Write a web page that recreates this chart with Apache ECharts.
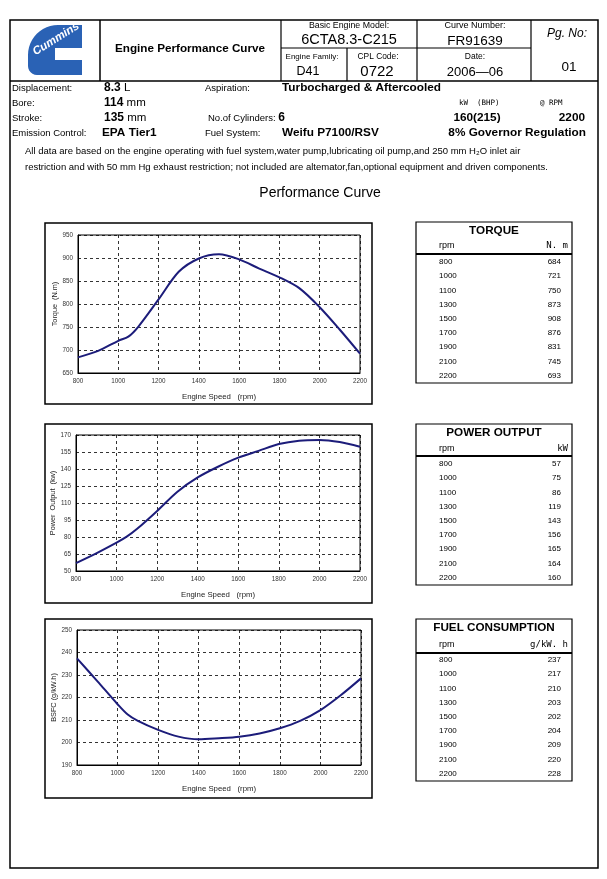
<!DOCTYPE html>
<html><head><meta charset="utf-8">
<script src="https://cdn.jsdelivr.net/npm/echarts@6/dist/echarts.min.js"></script>
<style>html,body{margin:0;padding:0;background:#fff}#c{width:607px;height:879px}</style>
</head><body><div id="c"></div>
<script>
// ---- data ----
const curveRpm = [800, 900, 1000, 1050, 1100, 1200, 1300, 1400, 1500, 1600, 1700, 1800, 1900, 2000, 2100, 2200];
const torqueCurve = [684, 698, 720, 729, 751, 810, 870, 899, 908, 897, 877, 858, 834, 793, 744, 692];
const powerCurve = [57, 65.6, 75, 80.3, 87, 103, 120, 132.6, 142, 150, 156, 162, 165, 165.6, 163.8, 159.7];
const bsfcCurve = [237.4, 227.3, 217, 212.4, 209.6, 205.6, 202.6, 201.4, 201.9, 202.6, 204, 206.3, 209.6, 214.4, 221, 228.5];

const tableRpm = ['800', '1000', '1100', '1300', '1500', '1700', '1900', '2100', '2200'];
const torqueTable = ['684', '721', '750', '873', '908', '876', '831', '745', '693'];
const powerTable = ['57', '75', '86', '119', '143', '156', '165', '164', '160'];
const bsfcTable = ['237', '217', '210', '203', '202', '204', '209', '220', '228'];

const xTicks = [800, 2200, 200];
const torqueTicks = [650, 950, 50];
const powerTicks = [50, 170, 15];
const bsfcTicks = [190, 250, 10];

// ---- drawing ----
const FONT = '"Liberation Sans", Arial, sans-serif';
const MONO = '"DejaVu Sans Mono", "Liberation Mono", monospace';
const LINE_COLOR = '#1c1c7a';
const g = [];
function txt(x, y, text, o) {
  o = o || {};
  const st = {
    text: text, fontSize: o.size || 9, fontFamily: o.family || FONT, fontWeight: o.bold ? 'bold' : 'normal',
    fontStyle: o.italic ? 'italic' : 'normal',
    fill: o.color || '#000', textAlign: o.align || 'left',
    textVerticalAlign: 'middle'
  };
  if (o.rich) st.rich = o.rich;
  g.push({type: 'text', x: x, y: y, rotation: o.rot || 0, z: 20, style: st});
}
function rect(x, y, w, h, lw) {
  g.push({type: 'rect', z: 15, shape: {x: x, y: y, width: w, height: h}, style: {fill: 'none', stroke: '#000', lineWidth: lw || 1}});
}
function line(x1, y1, x2, y2, lw) {
  g.push({type: 'line', z: 15, shape: {x1: x1, y1: y1, x2: x2, y2: y2}, style: {stroke: '#000', lineWidth: lw || 1}});
}

// page frame & header
rect(10, 20, 588, 848, 1.5);
line(10, 81, 598, 81, 1.5);
line(100, 20, 100, 81, 1.5);
line(281, 20, 281, 81, 1.2);
line(417, 20, 417, 81, 1.2);
line(531, 20, 531, 81, 1.2);
line(281, 48, 531, 48, 1.2);
line(347, 48, 347, 81, 1.2);

// logo (decorative C shape)
(function () {
  const pts = [[82, 25]];
  for (let k = 0; k <= 12; k++) {
    const a = Math.PI / 2 + (Math.PI / 2) * k / 12;
    pts.push([58 + 30 * Math.cos(a), 55 - 30 * Math.sin(a)]);
  }
  for (let k = 0; k <= 6; k++) {
    const a = Math.PI + (Math.PI / 2) * k / 6;
    pts.push([37 + 9 * Math.cos(a), 66 - 9 * Math.sin(a)]);
  }
  pts.push([82, 75], [82, 60], [55, 60], [55, 48], [82, 48]);
  g.push({type: 'polygon', z: 16, shape: {points: pts}, style: {fill: '#2a62b5'}});
})();
g.push({type: 'text', x: 56, y: 39, rotation: 0.56, z: 17, style: {text: 'Cummins', fontSize: 11.5, fontWeight: 'bold', fontStyle: 'italic', fontFamily: FONT, fill: '#fff', textAlign: 'center', textVerticalAlign: 'middle'}});

txt(190, 49, 'Engine Performance Curve', {size: 11.7, bold: true, align: 'center'});
txt(349, 26, 'Basic Engine Model:', {size: 8.8, align: 'center'});
txt(349, 40, '6CTA8.3-C215', {size: 14.5, align: 'center'});
txt(312, 57, 'Engine Family:', {size: 8, align: 'center'});
txt(308, 72, 'D41', {size: 12.5, align: 'center'});
txt(378, 57, 'CPL Code:', {size: 8.4, align: 'center'});
txt(377, 72, '0722', {size: 15, align: 'center'});
txt(475, 26, 'Curve Number:', {size: 9, align: 'center'});
txt(475, 41, 'FR91639', {size: 13.5, align: 'center'});
txt(475, 57, 'Date:', {size: 8.5, align: 'center'});
txt(475, 72, '2006\u201406', {size: 13, align: 'center'});
txt(567, 34, 'Pg. No:', {size: 12, italic: true, align: 'center'});
txt(569, 67, '01', {size: 13.5, align: 'center'});

// spec rows
const LS = 9.5;
const B = {b: {fontSize: 12, fontWeight: 'bold', fontFamily: FONT}};
txt(12, 88, 'Displacement:', {size: LS});
txt(104, 88, '{b|8.3} L', {size: 11.5, rich: B});
txt(205, 88, 'Aspiration:', {size: LS});
txt(282, 88, 'Turbocharged & Aftercooled', {size: 11.8, bold: true});
txt(12, 103, 'Bore:', {size: LS});
txt(104, 103, '{b|114} mm', {size: 11.5, rich: B});
txt(459, 103, 'kW  (BHP)', {size: 7.5, family: MONO});
txt(540, 103, '@ RPM', {size: 7.5, family: MONO});
txt(12, 118, 'Stroke:', {size: LS});
txt(104, 118, '{b|135} mm', {size: 11.5, rich: B});
txt(208, 118, 'No.of Cylinders: {b|6}', {size: LS, rich: B});
txt(477, 118, '160(215)', {size: 11.8, bold: true, align: 'center'});
txt(585, 118, '2200', {size: 11.8, bold: true, align: 'right'});
txt(12, 133, 'Emission Control:', {size: LS});
txt(102, 133, 'EPA Tier1', {size: 11.8, bold: true});
txt(205, 133, 'Fuel System:', {size: LS});
txt(282, 133, 'Weifu P7100/RSV', {size: 11.8, bold: true});
txt(586, 133, '8% Governor Regulation', {size: 11.8, bold: true, align: 'right'});
txt(25, 151, 'All data are based on the engine operating with fuel system,water pump,lubricating oil pump,and 250 mm H\u2082O inlet air', {size: 9.5});
txt(25, 167, 'restriction and with 50 mm Hg exhaust restriction; not included are altemator,fan,optional equipment and driven components.', {size: 9.5});

txt(320, 193, 'Performance Curve', {size: 14, align: 'center'});

// chart boxes
rect(45, 223, 327, 181, 1.5);
rect(45, 424, 327, 179, 1.5);
rect(45, 619, 327, 179, 1.5);

// tables
function table(top, bottom, title, unit, vals, rows) {
  rect(416, top, 156, bottom - top, 1.2);
  txt(494, rows.title, title, {size: 11.7, bold: true, align: 'center'});
  txt(439, rows.head, 'rpm', {size: 9});
  txt(568, rows.head, unit, {size: 9, align: 'right', family: MONO});
  line(416, rows.line, 572, rows.line, 2);
  for (let i = 0; i < tableRpm.length; i++) {
    const y = rows.first + i * 14.2;
    txt(439, y, tableRpm[i], {size: 8});
    txt(561, y, vals[i], {size: 8, align: 'right'});
  }
}
table(222, 383, 'TORQUE', 'N. m', torqueTable, {title: 231, head: 246, line: 254, first: 262});
table(424, 585, 'POWER OUTPUT', 'kW', powerTable, {title: 433, head: 449, line: 456, first: 464});
table(619, 781, 'FUEL CONSUMPTION', 'g/kW. h', bsfcTable, {title: 628, head: 645, line: 653, first: 660});

// charts
const grids = [
  {left: 78, top: 235, width: 282, height: 138},
  {left: 76, top: 435, width: 284, height: 136},
  {left: 77, top: 630, width: 284, height: 135}
];
const yNames = ['Torque  (N.m)', 'Power  Output  (kw)', 'BSFC (g/kW.h)'];
const yTicks = [torqueTicks, powerTicks, bsfcTicks];
const series = [torqueCurve, powerCurve, bsfcCurve];

const split = {show: true, lineStyle: {color: '#000', width: 0.8, type: [3, 3]}};
const lbl = {fontSize: 6.3, color: '#333', margin: 5, fontFamily: FONT, formatter: v => String(v)};
const option = {
  animation: false,
  backgroundColor: '#fff',
  grid: grids.map(gr => Object.assign({show: true, borderColor: '#000', borderWidth: 1, backgroundColor: 'transparent'}, gr)),
  xAxis: grids.map((gr, i) => ({
    type: 'value', gridIndex: i, min: xTicks[0], max: xTicks[1], interval: xTicks[2],
    axisLine: {show: true, lineStyle: {color: '#000', width: 1}}, axisTick: {show: false},
    axisLabel: lbl,
    splitLine: split,
    name: 'Engine Speed   (rpm)', nameLocation: 'middle', nameGap: 20,
    nameTextStyle: {fontSize: 7.8, color: '#222', fontFamily: FONT}
  })),
  yAxis: grids.map((gr, i) => ({
    type: 'value', gridIndex: i, min: yTicks[i][0], max: yTicks[i][1], interval: yTicks[i][2],
    axisLine: {show: true, lineStyle: {color: '#000', width: 1}}, axisTick: {show: false},
    axisLabel: lbl,
    splitLine: split,
    name: yNames[i], nameLocation: 'middle', nameGap: 19,
    nameTextStyle: {fontSize: 7.3, color: '#222', fontFamily: FONT}
  })),
  series: series.map((s, i) => ({
    type: 'line', xAxisIndex: i, yAxisIndex: i, smooth: 0.3, showSymbol: false, symbol: 'none',
    lineStyle: {color: LINE_COLOR, width: 2},
    data: curveRpm.map((r, k) => [r, s[k]])
  })),
  graphic: {elements: g}
};
const chart = echarts.init(document.getElementById('c'), null, {width: 607, height: 879});
chart.setOption(option);
</script>
</body></html>
